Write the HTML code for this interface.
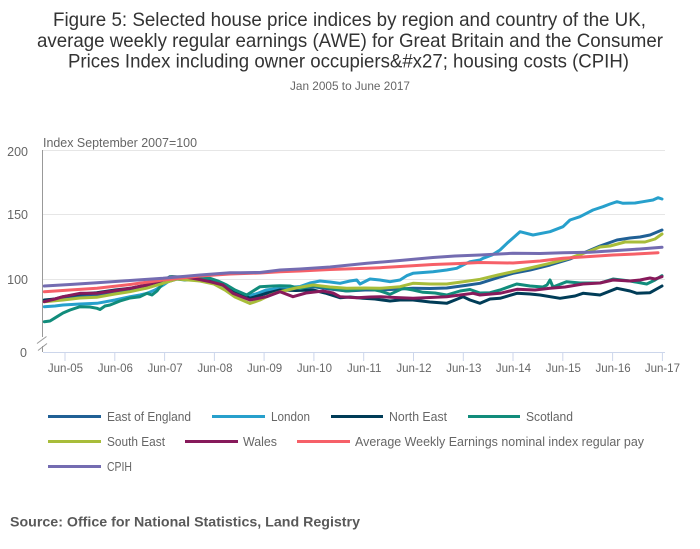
<!DOCTYPE html>
<html><head><meta charset="utf-8"><style>
html,body{margin:0;padding:0;background:#fff;}
svg{display:block;font-family:"Liberation Sans",sans-serif;}
</style></head><body>
<svg width="700" height="549" viewBox="0 0 700 549" xmlns="http://www.w3.org/2000/svg">
<rect width="700" height="549" fill="#fff"/>
<g fill="#333" font-size="19.5" text-anchor="start">
<text x="53" y="26" textLength="593" lengthAdjust="spacingAndGlyphs">Figure 5: Selected house price indices by region and country of the UK,</text>
<text x="37" y="47" textLength="626" lengthAdjust="spacingAndGlyphs">average weekly regular earnings (AWE) for Great Britain and the Consumer</text>
<text x="68" y="67.5" textLength="561" lengthAdjust="spacingAndGlyphs">Prices Index including owner occupiers&amp;#x27; housing costs (CPIH)</text>
</g>
<text x="290" y="90" font-size="12" fill="#666" textLength="120" lengthAdjust="spacingAndGlyphs">Jan 2005 to June 2017</text>
<text x="43" y="147" font-size="12.5" fill="#666" textLength="154" lengthAdjust="spacingAndGlyphs">Index September 2007=100</text>
<!-- grid -->
<g stroke="#e6e6e6" stroke-width="1">
<line x1="43" y1="150.5" x2="665" y2="150.5"/>
<line x1="43" y1="214.5" x2="665" y2="214.5"/>
<line x1="43" y1="279.5" x2="665" y2="279.5"/>
</g>
<!-- y labels -->
<g font-size="12.5" fill="#666" text-anchor="end">
<text x="28" y="156">200</text>
<text x="28" y="219">150</text>
<text x="28" y="284">100</text>
<text x="27" y="357">0</text>
</g>
<!-- y axis -->
<g stroke="#999" stroke-width="1" fill="none">
<line x1="42.5" y1="150" x2="42.5" y2="337"/>
<line x1="37" y1="343.5" x2="46.5" y2="336.5"/>
<line x1="38" y1="350.5" x2="47" y2="343.5"/>
<line x1="42.5" y1="346" x2="42.5" y2="352"/>
</g>
<!-- x axis -->
<g stroke="#ccd6eb" stroke-width="1">
<line x1="43" y1="352.5" x2="665" y2="352.5"/>
<line x1="65" y1="352" x2="65" y2="361"/>
<line x1="114.8" y1="352" x2="114.8" y2="361"/>
<line x1="164.6" y1="352" x2="164.6" y2="361"/>
<line x1="214.4" y1="352" x2="214.4" y2="361"/>
<line x1="264.1" y1="352" x2="264.1" y2="361"/>
<line x1="313.9" y1="352" x2="313.9" y2="361"/>
<line x1="363.7" y1="352" x2="363.7" y2="361"/>
<line x1="413.5" y1="352" x2="413.5" y2="361"/>
<line x1="463.3" y1="352" x2="463.3" y2="361"/>
<line x1="513" y1="352" x2="513" y2="361"/>
<line x1="562.8" y1="352" x2="562.8" y2="361"/>
<line x1="612.6" y1="352" x2="612.6" y2="361"/>
<line x1="662.4" y1="352" x2="662.4" y2="361"/>
</g>
<g font-size="11.5" fill="#666" text-anchor="middle">
<text x="65.5" y="372">Jun-05</text>
<text x="115.3" y="372">Jun-06</text>
<text x="165.1" y="372">Jun-07</text>
<text x="214.9" y="372">Jun-08</text>
<text x="264.6" y="372">Jun-09</text>
<text x="314.4" y="372">Jun-10</text>
<text x="364.2" y="372">Jun-11</text>
<text x="414" y="372">Jun-12</text>
<text x="463.8" y="372">Jun-13</text>
<text x="513.5" y="372">Jun-14</text>
<text x="563.3" y="372">Jun-15</text>
<text x="613.1" y="372">Jun-16</text>
<text x="662.4" y="372">Jun-17</text>
</g>
<!-- series -->
<g fill="none" stroke-width="3" stroke-linejoin="round" stroke-linecap="round">
<!-- East of England -->
<polyline stroke="#206095" points="44.3,301 55,299 65,298 80,296 97,295 115,292 130,290 147,288 163,283 177,279 195,280 214,283 230,290 247,297 256,294 264,292 280,290 296,288.5 313,286.7 330,289 346.7,291 365,290 380,290 400,289 413,288.3 430,288.5 446.7,288 465,285.5 480,283.3 500,277 513,273.3 530,270 550,265 570,259 583,253.3 600,246 617,240 630,238 640,237 650,235 662,230"/>
<!-- London -->
<polyline stroke="#27a0cc" points="44.3,306.7 55,306 63,305 80,304 97,303.3 115,300 130,296.7 140,295 147,293.3 155,290 163.3,285 173,278.3 180,279 195,279 214,282 230,288 247,296 256,294 266,290 280,288.3 300,286.5 310,283 320,281 330,282 340,283.3 350,281 356.7,280 360,284 370,279 380,280 390,281.7 400,280 406.7,275.7 413,273.3 433,271.7 446.7,270 456.7,268.3 463,265 470,261.7 480,260 483,258.3 492,255 500,250 507,243.3 513,238 520,231.7 533,235 550,231.7 563,226.7 570,220 580,216.7 593,210 603,206.7 610,204 617,201.7 623,203.3 635,203 643,201.7 653,200 658,197.7 662,199"/>
<!-- North East -->
<polyline stroke="#003c57" points="44.3,300 55,299 63,296.7 80,294 96.7,292.7 115,290 130,288.3 147,285 163.3,280.7 170,276.7 185,277 200,278.3 220,283.3 235,291 250,298.3 266.7,293.3 280,290 296,290.5 313,290 325,293 340,297.7 350,297 363,298.3 375,299 390,301 400,300 413,300 430,302 446.7,303.3 455,300 463,296.7 470,300 480,303.3 490,299 500,298.3 517,293.3 530,294 540,295 560,298.3 575,296 583,293.3 600,295 617,288.3 630,291 637,293.3 650,292.7 662,286"/>
<!-- Scotland -->
<polyline stroke="#118c7b" points="44.3,321.7 50,321 57,316.7 63,313 70,310 80,306.7 90,307 97,308.3 100,309.5 105,306 110,305 120,301 130,298 140,296.7 147,293.3 152,295 157,291 163,283 170,277 177,279 185,280 195,279 210,278.3 218,281 226.7,285 235,290 246.7,295 260,286.7 273,286 280,285.7 290,286 300,288.5 313,285.7 330,288 346.7,291 355,290 366.7,288.3 380,291 390,294.3 403,288.3 413,290 423,292.3 435,293 446.7,295 460,291 470,289.5 480,293 490,292.7 500,290 516.7,284 530,286 543,287 547,285 550,280 553,287 566.7,281.7 580,283 600,283 613,279 630,281 646.7,284 655,280 662,275.7"/>
<!-- South East -->
<polyline stroke="#a8bd3a" points="44.3,301.7 63,300 80,298 96.7,297.3 115,294 130,291.7 147,288 163,283.3 177,279 200,281 214,284 225,290 235,297 250,303.5 260,300 270,295 280,291.7 296,288 313,285 330,287 346.7,288.3 365,288 380,288.3 400,286.7 413,283.3 430,284 446.7,284 465,281.5 480,279.3 498,275 513,271.7 530,268 550,263.3 570,258 590,251 600,247 610,246 625,242 645,242 655,239 662,234"/>
<!-- Wales -->
<polyline stroke="#871a5b" points="44.3,301.7 55,299 63,296.7 80,293.3 96.7,293.3 113,291 130,288.3 147,285 163,280 183,276.7 197,279 210,281.7 223,285 233,293.3 250,300 266.7,296.7 280,291.7 293,296.7 306,293 323,291 333,293 340,296.7 356.7,297.7 370,297 380,296.7 395,297.5 413,298.3 430,297.5 446.7,296.7 460,295 473,293.3 480,295 500,293.3 517,289.3 535,290 550,288.3 565,287 583,284 600,283 613,280 630,281 640,280 650,278 655,279 662,276.7"/>
<!-- AWE -->
<polyline stroke="#f66068" points="44.3,291.7 70,290 97,288.3 130,284.5 163,280 200,276 230,274 260,273 280,271.7 300,271 330,269.5 367,268.3 380,267.7 400,266.5 433,264.5 460,263.5 480,262.5 513,263 540,261 563,258.3 590,256.5 613,255 640,253.8 658,252.7"/>
<!-- CPIH -->
<polyline stroke="#746cb1" points="44.3,286 70,284.5 97,282.7 130,280.5 163,278.3 200,275 230,272.7 240,272.7 260,272.5 280,270 300,269 330,267 367,263.3 400,260.5 433,257.5 455,256 480,255 513,253.3 540,253.5 563,252.7 590,252.2 613,250.7 640,249 662,247.3"/>
</g>
<!-- legend -->
<g stroke-width="3">
<line x1="48" y1="416.5" x2="101" y2="416.5" stroke="#206095"/>
<line x1="212" y1="416.5" x2="265" y2="416.5" stroke="#27a0cc"/>
<line x1="331" y1="416.5" x2="383" y2="416.5" stroke="#003c57"/>
<line x1="468" y1="416.5" x2="520" y2="416.5" stroke="#118c7b"/>
<line x1="48" y1="441.5" x2="101" y2="441.5" stroke="#a8bd3a"/>
<line x1="185" y1="441.5" x2="238" y2="441.5" stroke="#871a5b"/>
<line x1="297" y1="441.5" x2="350" y2="441.5" stroke="#f66068"/>
<line x1="48" y1="466.5" x2="101" y2="466.5" stroke="#746cb1"/>
</g>
<g font-size="12.5" fill="#666">
<text x="107" y="421" textLength="84" lengthAdjust="spacingAndGlyphs">East of England</text>
<text x="271" y="421" textLength="39" lengthAdjust="spacingAndGlyphs">London</text>
<text x="389" y="421" textLength="58" lengthAdjust="spacingAndGlyphs">North East</text>
<text x="526" y="421" textLength="47" lengthAdjust="spacingAndGlyphs">Scotland</text>
<text x="107" y="446" textLength="58" lengthAdjust="spacingAndGlyphs">South East</text>
<text x="243" y="446" textLength="34" lengthAdjust="spacingAndGlyphs">Wales</text>
<text x="355" y="446" textLength="289" lengthAdjust="spacingAndGlyphs">Average Weekly Earnings nominal index regular pay</text>
<text x="107" y="471" textLength="25" lengthAdjust="spacingAndGlyphs">CPIH</text>
</g>
<text x="10" y="526.5" font-size="14" font-weight="bold" fill="#595959" textLength="350" lengthAdjust="spacingAndGlyphs">Source: Office for National Statistics, Land Registry</text>
</svg>
</body></html>
